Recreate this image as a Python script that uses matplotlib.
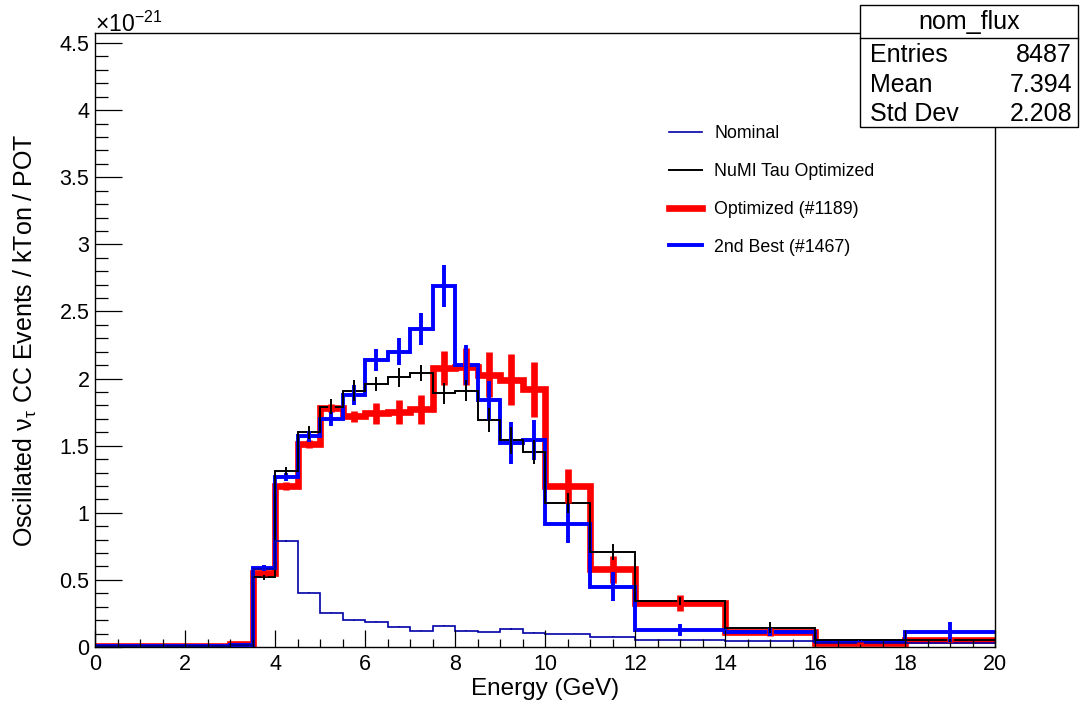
import matplotlib
matplotlib.use('Agg')
import matplotlib.pyplot as plt
from matplotlib.patches import Rectangle
from matplotlib.lines import Line2D
from matplotlib.ticker import MultipleLocator, FuncFormatter
import numpy as np

plt.rcParams['font.family'] = ['Liberation Sans', 'DejaVu Sans']
plt.rcParams['mathtext.fontset'] = 'custom'
plt.rcParams['mathtext.rm'] = 'Liberation Sans'
plt.rcParams['mathtext.it'] = 'Liberation Sans'
plt.rcParams['mathtext.default'] = 'regular'

# bin edges (GeV), values in units of 1e-21
edges = [0, 3, 3.5, 4, 4.5, 5, 5.5, 6, 6.5, 7, 7.5, 8, 8.5, 9, 9.5, 10, 11, 12, 14, 16, 18, 20]

nominal = [0.004, 0.012, 0.58, 0.79, 0.405, 0.256, 0.20, 0.187, 0.152, 0.122, 0.157, 0.122,
           0.112, 0.134, 0.107, 0.097, 0.077, 0.052, 0.045, 0.03, 0.03]
nominal_err = [0, 0, 0.006, 0.007, 0.005, 0.004, 0.004, 0.004, 0.004, 0.003, 0.004, 0.003,
               0.003, 0.004, 0.003, 0.003, 0.003, 0.002, 0.002, 0.002, 0.002]

numi = [0.005, 0.012, 0.52, 1.31, 1.60, 1.79, 1.91, 1.96, 2.01, 2.04, 1.89, 1.91,
        1.69, 1.54, 1.45, 1.07, 0.71, 0.34, 0.144, 0.052, 0.05]
numi_err = [0, 0, 0.02, 0.03, 0.05, 0.055, 0.08, 0.055, 0.07, 0.06, 0.08, 0.08,
            0.09, 0.10, 0.09, 0.075, 0.06, 0.03, 0.04, 0.01, 0.01]

opt = [0.008, 0.02, 0.55, 1.20, 1.51, 1.78, 1.72, 1.74, 1.75, 1.77, 2.08, 2.09,
       2.03, 1.99, 1.92, 1.20, 0.58, 0.33, 0.114, 0.03, 0.05]
opt_err = [0, 0, 0.02, 0.03, 0.03, 0.03, 0.04, 0.08, 0.09, 0.11, 0.125, 0.135,
           0.17, 0.19, 0.205, 0.13, 0.10, 0.06, 0.03, 0.01, 0.015]

best2 = [0.005, 0.012, 0.59, 1.27, 1.57, 1.70, 1.88, 2.14, 2.20, 2.37, 2.69, 2.10,
         1.84, 1.52, 1.54, 0.92, 0.45, 0.13, 0.11, 0.045, 0.11]
best2_err = [0, 0, 0.02, 0.03, 0.04, 0.05, 0.075, 0.08, 0.10, 0.12, 0.16, 0.15,
             0.145, 0.155, 0.15, 0.147, 0.11, 0.045, 0.03, 0.01, 0.075]

labels = ['Nominal', 'NuMI Tau Optimized', 'Optimized (#1189)', '2nd Best (#1467)']
stats_title = 'nom_flux'
stats_rows = [('Entries', '8487'), ('Mean', '7.394'), ('Std Dev', '2.208')]

centers = 0.5 * (np.array(edges[1:]) + np.array(edges[:-1]))

fig = plt.figure(figsize=(10.8, 7.04), dpi=100)
ax = fig.add_axes([95/1080, 57/704, 900/1080, 614/704])

styles = [
    (opt, opt_err, 'red', 4.8),
    (best2, best2_err, '#0000ff', 2.8),
    (numi, numi_err, 'black', 1.4),
    (nominal, nominal_err, '#0000a8', 1.2),
]
for vals, errs, col, lw in styles:
    ax.stairs(vals, edges, color=col, linewidth=lw, baseline=None)
    ax.errorbar(centers, vals, yerr=errs, fmt='none', ecolor=col, elinewidth=lw, capsize=0)

ax.set_xlim(0, 20)
ax.set_ylim(0, 4.575)
ax.xaxis.set_major_locator(MultipleLocator(2))
ax.xaxis.set_minor_locator(MultipleLocator(0.5))
ax.yaxis.set_major_locator(MultipleLocator(0.5))
ax.yaxis.set_minor_locator(MultipleLocator(0.1))
ax.yaxis.set_major_formatter(FuncFormatter(lambda v, p: '%g' % v))
ax.tick_params(axis='both', which='both', direction='in', width=0.9, labelsize=15.5)
ax.tick_params(axis='x', which='major', length=12.5, pad=5)
ax.tick_params(axis='x', which='minor', length=6)
ax.tick_params(axis='y', which='major', length=19.5, pad=4)
ax.tick_params(axis='y', which='minor', length=9.7)
for s in ax.spines.values():
    s.set_linewidth(1.0)

ax.set_xlabel('Energy (GeV)', fontsize=17.5, labelpad=2)
ax.set_ylabel(r'Oscillated $\nu_{\tau}$ CC Events / kTon / POT', fontsize=18, labelpad=15)

fig.text(95/1080, 1 - 32/704, r'$\times$10$^{-21}$', fontsize=16.5, ha='left', va='baseline')

handles = [Line2D([], [], color='#0000a8', lw=1.2),
           Line2D([], [], color='black', lw=1.4),
           Line2D([], [], color='red', lw=4.8),
           Line2D([], [], color='#0000ff', lw=2.8)]
ax.legend(handles, labels, loc='upper left', bbox_to_anchor=(0.62, 0.876), frameon=False,
          fontsize=12.8, handlelength=1.85, handletextpad=0.7, labelspacing=1.17)

# stats box
x0, x1 = 860/1080, 1078/1080
ytop, ysep, ybot = 1 - 5/704, 1 - 38/704, 1 - 127/704
fig.patches.append(Rectangle((x0, ybot), x1 - x0, ytop - ybot, transform=fig.transFigure,
                             facecolor='white', edgecolor='black', linewidth=1.0, zorder=5))
fig.lines.append(Line2D([x0, x1], [ysep, ysep], transform=fig.transFigure, color='black',
                        linewidth=1.0, zorder=6))
fig.text((x0 + x1) / 2, 1 - 22/704, stats_title, fontsize=18, ha='center', va='center', zorder=7)
for i, (k, v) in enumerate(stats_rows):
    yy = 1 - (55 + 29.5 * i) / 704
    fig.text(870/1080, yy, k, fontsize=18, ha='left', va='center', zorder=7)
    fig.text(1072/1080, yy, v, fontsize=18, ha='right', va='center', zorder=7)

fig.savefig('out.png', dpi=100)
